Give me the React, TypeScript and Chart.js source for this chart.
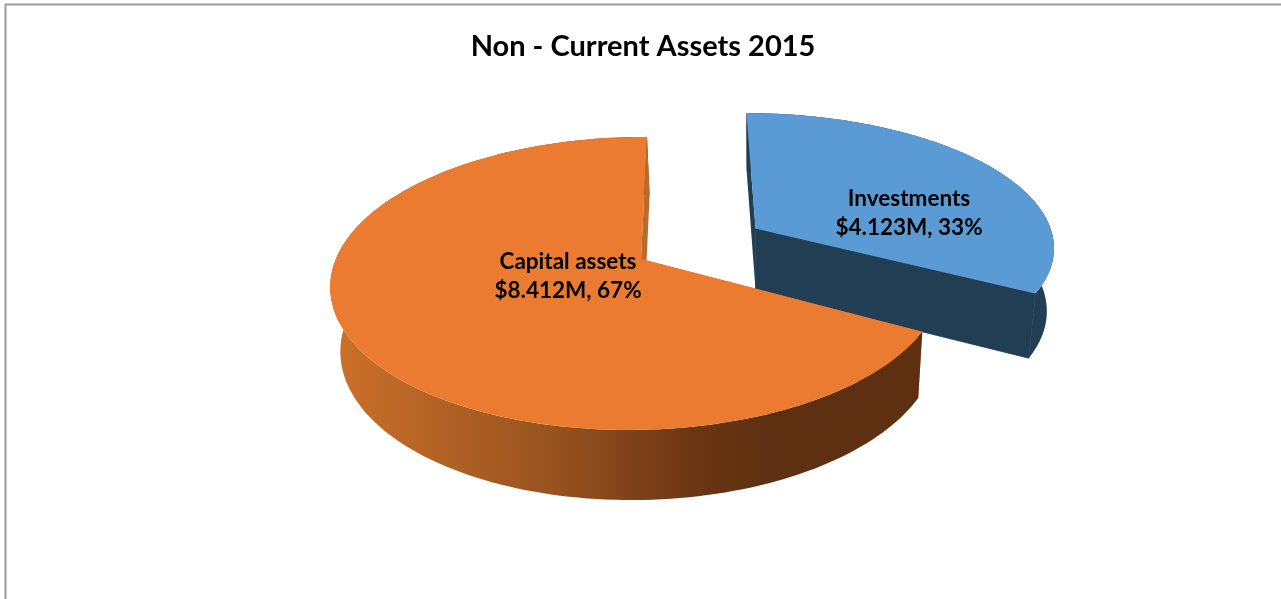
import React, { useEffect, useRef } from "react";
import Chart from "chart.js/auto";

const titleText = "Non - Current Assets 2015";
const categories = ["Investments", "Capital assets"];
const valuesMillions = [4.123, 8.412];
const explodeOffsets = [95, 0];
const topColors = ["#5B9BD5", "#EA7B30"];

// Projection of the pie plane onto the picture (a perspective view of the disc), per slice.
const VIEWS = [
  { cx: 643, cy: 258.5, sx: 303, sy: 136, a: -3, k: 0.12, m: 0 },
  { cx: 641, cy: 259, sx: 301.5, sy: 142.4, a: -7, k: 0.167, m: 0.012 },
];
const DEPTH = { vx: 755, sX: 0.976, sY: 1.04, dY: 52.9 };
const LABEL_POS = [
  { x: 909, y: 199 },
  { x: 568, y: 262 },
];

type Pt = { x: number; y: number };
type View = (typeof VIEWS)[number];
const project = (V: View, u: number, v: number): Pt => {
  const w = 1 - V.k * v + V.m * u;
  return { x: V.cx + (V.sx * u + V.a * v) / w, y: V.cy + (V.sy * v) / w };
};
const lower = (p: Pt): Pt => ({
  x: DEPTH.vx + (p.x - DEPTH.vx) * DEPTH.sX,
  y: p.y * DEPTH.sY + DEPTH.dY,
});
const fillPoly = (ctx: CanvasRenderingContext2D, pts: Pt[], fill: any, seam = false) => {
  ctx.beginPath();
  pts.forEach((p, i) => (i ? ctx.lineTo(p.x, p.y) : ctx.moveTo(p.x, p.y)));
  ctx.closePath();
  ctx.fillStyle = fill;
  ctx.fill();
  if (seam) {
    ctx.strokeStyle = fill;
    ctx.lineWidth = 0.8;
    ctx.stroke();
  }
};

const pie3d = {
  id: "pie3d",
  beforeDraw(chart: any) {
    const ctx: CanvasRenderingContext2D = chart.ctx;
    ctx.save();
    ctx.strokeStyle = "#9c9c9c";
    ctx.lineWidth = 2;
    ctx.beginPath();
    ctx.moveTo(5.5, 599);
    ctx.lineTo(5.5, 4.5);
    ctx.lineTo(1281, 4.5);
    ctx.stroke();
    ctx.restore();
  },
  beforeDatasetDraw(chart: any, args: any) {
    const ctx: CanvasRenderingContext2D = chart.ctx;
    const arcs = chart.getDatasetMeta(args.index).data;
    const orange = ctx.createLinearGradient(335, 0, 770, 0);
    orange.addColorStop(0, "#CC7029");
    orange.addColorStop(0.5, "#98531F");
    orange.addColorStop(0.82, "#6C3613");
    orange.addColorStop(1, "#5E3011");
    const rimFill = ["#223E55", orange];
    const wallFill = ["#223E55", "#BC6A2B"];

    arcs.forEach((arc: any, i: number) => {
      const V = VIEWS[i];
      const R = arc.outerRadius;
      const off = (arc.options.offset || 0) / R;
      const mid = (arc.startAngle + arc.endAngle) / 2;
      const ou = off * Math.cos(mid);
      const ov = off * Math.sin(mid);
      const n = 160;
      const rim: Pt[] = [];
      for (let s = 0; s <= n; s++) {
        const a = arc.startAngle + ((arc.endAngle - arc.startAngle) * s) / n;
        rim.push(project(V, ou + Math.cos(a), ov + Math.sin(a)));
      }
      const apex = project(V, ou, ov);
      const rimLow = rim.map(lower);
      const apexLow = lower(apex);
      fillPoly(ctx, [apex, rim[0], rimLow[0], apexLow], wallFill[i]);
      fillPoly(ctx, [...rim, ...rimLow.slice().reverse()], rimFill[i]);
      // the wall at the slice's closing edge faces the viewer, so it lies over the rim
      fillPoly(ctx, [apex, rim[n], rimLow[n], apexLow], wallFill[i], i === 0);
      fillPoly(ctx, [apex, ...rim], arc.options.backgroundColor);
    });
    return false;
  },
  afterDatasetsDraw(chart: any) {
    const ctx: CanvasRenderingContext2D = chart.ctx;
    const total = valuesMillions.reduce((a, b) => a + b, 0);
    ctx.save();
    ctx.fillStyle = "#000";
    ctx.textAlign = "center";
    ctx.textBaseline = "middle";
    ctx.font = "bold 22.5px Lato";
    categories.forEach((c, i) => {
      const value = `$${valuesMillions[i].toFixed(3)}M, ${Math.round((valuesMillions[i] / total) * 100)}%`;
      ctx.fillText(c, LABEL_POS[i].x, LABEL_POS[i].y);
      ctx.fillText(value, LABEL_POS[i].x, LABEL_POS[i].y + 29);
    });
    ctx.restore();
  },
};

export default function App() {
  const ref = useRef<HTMLCanvasElement>(null);
  useEffect(() => {
    document.body.style.margin = "0";
    const chart = new Chart(ref.current!, {
      type: "pie",
      data: {
        labels: categories,
        datasets: [
          {
            data: valuesMillions,
            backgroundColor: topColors,
            offset: explodeOffsets,
            borderWidth: 0,
          },
        ],
      },
      options: {
        responsive: false,
        animation: false,
        layout: { padding: { left: 5 } },
        plugins: {
          legend: { display: false },
          tooltip: { enabled: false },
          title: {
            display: true,
            text: titleText,
            color: "#000",
            font: { family: "Lato", size: 29, weight: "bold" },
            padding: { top: 29, bottom: 10 },
          },
        },
      },
      plugins: [pie3d],
    } as any);
    return () => chart.destroy();
  }, []);
  return (
    <canvas
      ref={ref}
      width={1281}
      height={599}
      style={{ display: "block", width: 1281, height: 599 }}
    />
  );
}
